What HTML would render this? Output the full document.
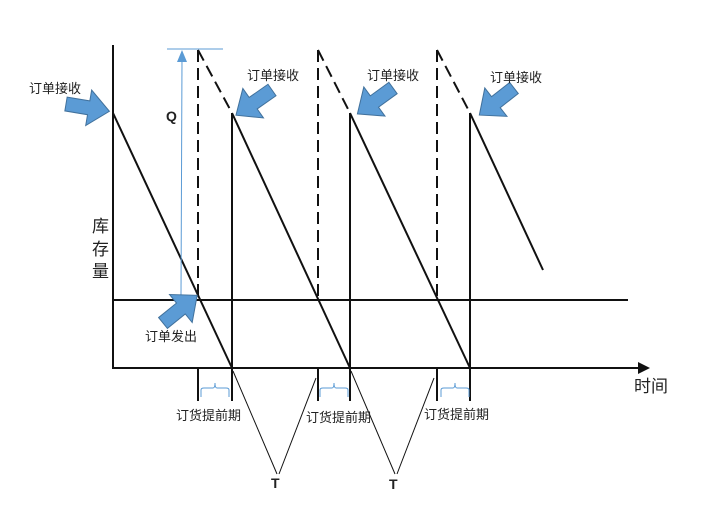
<!DOCTYPE html>
<html><head><meta charset="utf-8"><style>
html,body{margin:0;padding:0;background:#fff;}
svg{display:block;}
text{font-family:"Liberation Sans","Noto Sans CJK SC",sans-serif;fill:#222;}
</style></head><body>
<svg width="706" height="515" viewBox="0 0 706 515" xmlns="http://www.w3.org/2000/svg">
<defs>
<polygon id="ba" points="0,-7 23,-7 23,-18 44,0 23,18 23,7 0,7" fill="#5b9bd5" stroke="#41719c" stroke-width="1"/>
</defs>
<g stroke="#111" stroke-width="2" fill="none">
<line x1="113" y1="45" x2="113" y2="369"/>
<line x1="112" y1="368" x2="640" y2="368"/>
<line x1="113" y1="300" x2="628" y2="300"/>
<line x1="113" y1="113" x2="232" y2="368"/>
<line x1="232" y1="113" x2="232" y2="401"/>
<line x1="232" y1="113" x2="350" y2="368"/>
<line x1="350" y1="113" x2="350" y2="401"/>
<line x1="350" y1="113" x2="470" y2="368"/>
<line x1="470" y1="113" x2="470" y2="401"/>
<line x1="470" y1="113" x2="543" y2="270"/>
<line x1="198" y1="368" x2="198" y2="401"/>
<line x1="318" y1="368" x2="318" y2="401"/>
<line x1="437" y1="368" x2="437" y2="401"/>
</g>
<polygon points="638,362 650,368 638,374" fill="#111"/>
<g stroke="#111" stroke-width="2" fill="none" stroke-dasharray="12,6">
<line x1="198" y1="50" x2="198" y2="300"/>
<line x1="198" y1="50" x2="232" y2="113"/>
<line x1="318" y1="50" x2="318" y2="300"/>
<line x1="318" y1="50" x2="350" y2="113"/>
<line x1="437" y1="50" x2="437" y2="300"/>
<line x1="437" y1="50" x2="470" y2="113"/>
</g>
<g stroke="#111" stroke-width="1" fill="none">
<line x1="233" y1="371" x2="277" y2="474"/>
<line x1="316" y1="378" x2="279" y2="474"/>
<line x1="351" y1="371" x2="395" y2="474"/>
<line x1="434" y1="378" x2="397" y2="474"/>
</g>
<g stroke="#5b9bd5" stroke-width="1" fill="none">
<line x1="167" y1="49" x2="223" y2="49"/>
<line x1="181" y1="295" x2="182" y2="58"/>
<path d="M201,397 V390 Q201,388 204,388 H213 Q215,388 215,383 Q215,388 217,388 H226 Q229,388 229,390 V397"/>
<path d="M320,397 V390 Q320,388 323,388 H332 Q334,388 334,383 Q334,388 336,388 H345 Q348,388 348,390 V397"/>
<path d="M441,397 V390 Q441,388 444,388 H453 Q455,388 455,383 Q455,388 457,388 H466 Q469,388 469,390 V397"/>
</g>
<polygon points="182,50 177,62 187,62" fill="#5b9bd5"/>
<use href="#ba" transform="translate(66,104) rotate(9.5)"/>
<use href="#ba" transform="translate(272,90) rotate(145)"/>
<use href="#ba" transform="translate(393,88) rotate(144)"/>
<use href="#ba" transform="translate(514,88) rotate(142)"/>
<use href="#ba" transform="translate(163,323) rotate(-39)"/>
<g font-size="13">
<text x="29" y="93">订单接收</text>
<text x="247" y="80">订单接收</text>
<text x="367" y="80">订单接收</text>
<text x="490" y="82">订单接收</text>
<text x="145" y="341">订单发出</text>
<text x="176" y="420">订货提前期</text>
<text x="306" y="422">订货提前期</text>
<text x="424" y="419">订货提前期</text>
</g>
<text x="166" y="121" font-size="14" font-weight="bold">Q</text>
<text x="271" y="488" font-size="14" font-weight="bold">T</text>
<text x="389" y="489" font-size="14" font-weight="bold">T</text>
<g font-size="17">
<text x="92" y="232">库</text>
<text x="92" y="255">存</text>
<text x="92" y="277">量</text>
<text x="634" y="392">时间</text>
</g>
</svg>
</body></html>
